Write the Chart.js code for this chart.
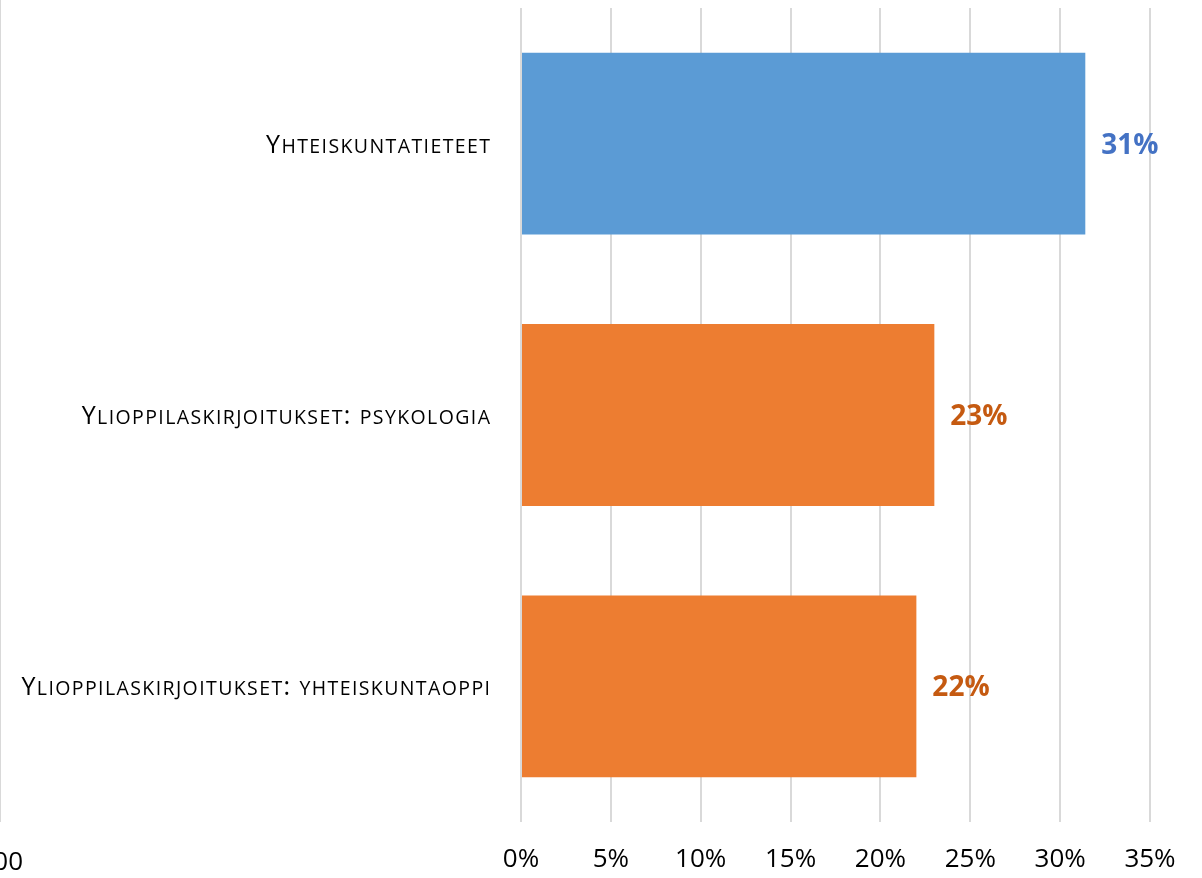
<!DOCTYPE html>
<html>
<head>
<meta charset="utf-8">
<script src="https://cdn.jsdelivr.net/npm/chart.js@4/dist/chart.umd.min.js"></script>
<style>
    html, body { margin: 0; padding: 0; background: #fff; }
    #wrap { width: 1202px; height: 878px; position: relative; }
</style>
</head>
<body>
<div id="wrap"><canvas id="chart"></canvas></div>
<script>
const categories = ['Yhteiskuntatieteet', 'Ylioppilaskirjoitukset: psykologia', 'Ylioppilaskirjoitukset: yhteiskuntaoppi'];
const shares = [31.4, 23, 22];
const barColors = ['#5b9bd5', '#ed7d31', '#ed7d31'];
const labelColors = ['#4472c4', '#c55a11', '#c55a11'];
const axisMin = 0;
const axisMax = 35;
const axisStep = 5;
const strayText = '00';

const FONT = '"Open Sans", sans-serif';
const CAT_SIZE = 25;
const SMALL = 0.78;

// category labels in small caps (canvas can't do font-variant through Chart.js)
function smallCapsRuns(text) {
    return Array.from(text).map(ch => {
        const lower = ch !== ch.toUpperCase();
        return { ch: lower ? ch.toUpperCase() : ch, size: lower ? CAT_SIZE * SMALL : CAT_SIZE };
    });
}

const categoryLabels = {
    id: 'categoryLabels',
    afterDraw(chart) {
        const ctx = chart.ctx;
        const yScale = chart.scales.y;
        const right = chart.chartArea.left - 31;
        ctx.save();
        ctx.fillStyle = '#000';
        ctx.textAlign = 'left';
        ctx.textBaseline = 'alphabetic';
        categories.forEach((name, i) => {
            const runs = smallCapsRuns(name);
            let total = 0;
            runs.forEach(r => {
                ctx.font = `${r.size}px ${FONT}`;
                r.w = ctx.measureText(r.ch).width + 1.4;
                total += r.w;
            });
            total -= 1.4;
            let x = right - total;
            const base = yScale.getPixelForValue(i) + 9;
            runs.forEach(r => {
                ctx.font = `${r.size}px ${FONT}`;
                ctx.fillText(r.ch, x, base);
                x += r.w;
            });
        });
        ctx.restore();
    }
};

// value labels just past the end of each bar
const valueLabels = {
    id: 'valueLabels',
    afterDatasetsDraw(chart) {
        const ctx = chart.ctx;
        const meta = chart.getDatasetMeta(0);
        ctx.save();
        ctx.font = `700 28px ${FONT}`;
        ctx.textAlign = 'left';
        ctx.textBaseline = 'middle';
        meta.data.forEach((bar, i) => {
            ctx.fillStyle = labelColors[i];
            ctx.fillText(Math.round(shares[i]) + '%', bar.x + 16, bar.y + 2);
        });
        ctx.restore();
    }
};

// edge of the neighbouring chart that is cut off on the left
const leftEdge = {
    id: 'leftEdge',
    afterDraw(chart) {
        const ctx = chart.ctx;
        const area = chart.chartArea;
        ctx.save();
        ctx.strokeStyle = '#d9d9d9';
        ctx.lineWidth = 2;
        ctx.beginPath();
        ctx.moveTo(0, 0);
        ctx.lineTo(0, area.bottom);
        ctx.stroke();
        ctx.fillStyle = '#000';
        ctx.font = `26px ${FONT}`;
        ctx.textAlign = 'right';
        ctx.textBaseline = 'middle';
        ctx.fillText(strayText, 23, 863);
        ctx.restore();
    }
};

new Chart(document.getElementById('chart'), {
    type: 'bar',
    data: {
        labels: categories,
        datasets: [{
            data: shares,
            backgroundColor: barColors,
            barPercentage: 0.67,
            categoryPercentage: 1
        }]
    },
    options: {
        indexAxis: 'y',
        responsive: true,
        maintainAspectRatio: false,
        animation: false,
        layout: { padding: { top: 8, right: 52, left: 0, bottom: 0 } },
        plugins: {
            legend: { display: false },
            tooltip: { enabled: false }
        },
        scales: {
            x: {
                min: axisMin,
                max: axisMax,
                afterFit(scale) { scale.height = 56; },
                border: { display: false },
                grid: { color: '#d9d9d9', lineWidth: 2, drawTicks: false },
                ticks: {
                    stepSize: axisStep,
                    padding: 22,
                    color: '#000',
                    font: { family: FONT, size: 26 },
                    callback: v => v + '%'
                }
            },
            y: {
                afterFit(scale) { scale.width = 521; },
                border: { display: false },
                grid: { display: false },
                ticks: { display: false }
            }
        }
    },
    plugins: [valueLabels, categoryLabels, leftEdge]
});
</script>
</body>
</html>
